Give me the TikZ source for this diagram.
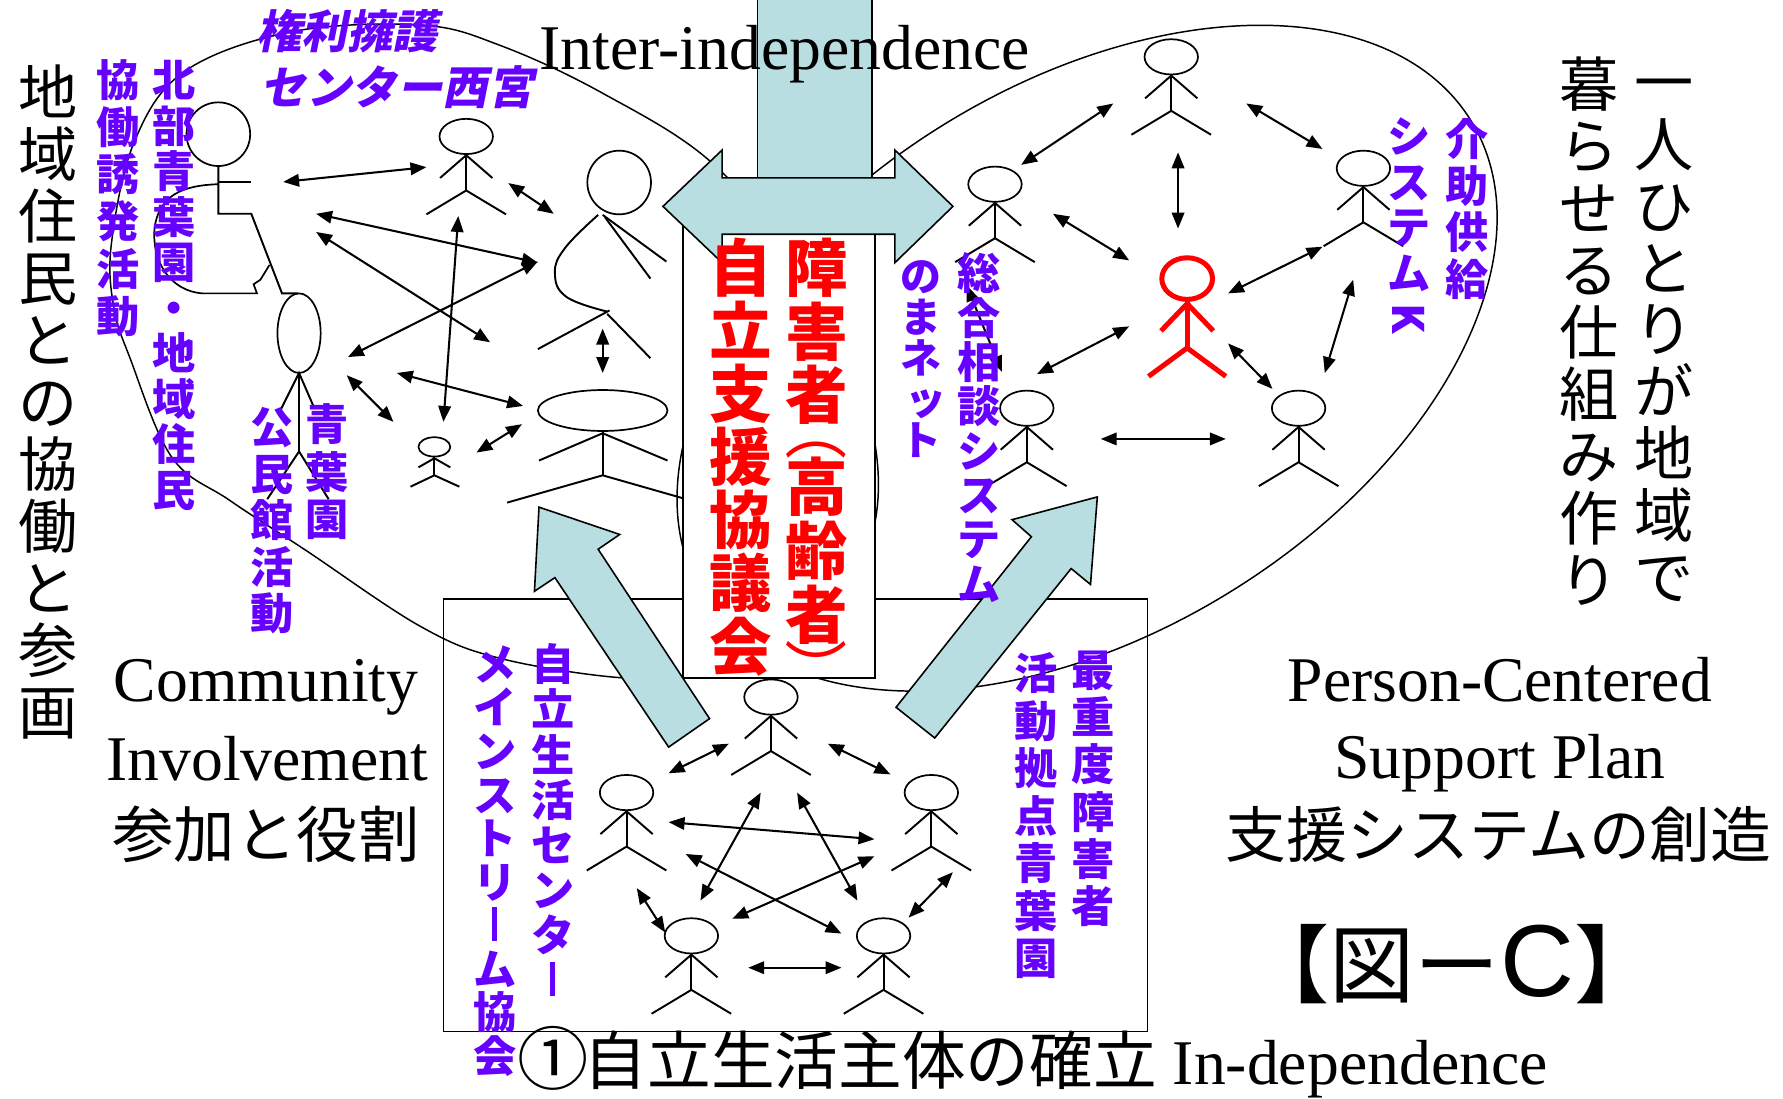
\documentclass[tikz,border=0pt]{standalone}
\usepackage{fontspec}
\usepackage{graphicx}
\usetikzlibrary{arrows.meta}
\setmainfont{Liberation Serif}
\newfontfamily\jp{Noto Sans CJK JP}
\newfontfamily\jpsl{Noto Sans CJK JP}[FakeSlant=0.2]
\newfontfamily\arialf{Liberation Sans}
\definecolor{paleblue}{RGB}{184,222,226}
\definecolor{vio}{RGB}{102,0,255}
\definecolor{rd}{RGB}{255,0,0}
% fixes the top of a vertical column at kanji height
\newcommand\vst{\vphantom{国}}
% long vowel mark, small tsu and brackets set for vertical columns
\newcommand\vbar{\rule[0.02em]{0.1em}{0.78em}}
\newcommand\vtsu{\hspace*{0.22em}ッ}
\newcommand\vopen{{\mdseries\rotatebox[origin=c]{-90}{（}}}
\newcommand\vclose{{\mdseries\rotatebox[origin=c]{-90}{）}}}

\tikzset{
  limb/.style={line width=1.7pt},
  rim/.style={line width=1.5pt},
  loop/.style={line width=1.3pt},
  frame/.style={line width=1.4pt},
  dbl/.style={line width=1.8pt,{Triangle[length=14pt,width=11pt]}-{Triangle[length=14pt,width=11pt]}},
  bluearrow/.style={fill=paleblue,draw=black,line width=1.4pt,line join=miter},
  vcol/.style={inner sep=0pt,align=center,anchor=north},
  purple col/.style={vcol,text=vio,font={\jp\bfseries\fontsize{38}{#1}\selectfont\lineskiplimit=-100pt}},
  small purple col/.style={vcol,text=vio,font={\jp\bfseries\fontsize{36}{#1}\selectfont\lineskiplimit=-100pt}},
  black col/.style={vcol,text=black,font={\jp\fontsize{52}{#1}\selectfont\lineskiplimit=-100pt}},
  red col/.style={vcol,text=rd,font={\jp\bfseries\fontsize{55}{#1}\selectfont\lineskiplimit=-100pt}},
  latin/.style={inner sep=0pt,anchor=base,font=\fontsize{56}{60}\selectfont},
  slanted/.style={inner sep=0pt,anchor=west,text=vio,font={\jpsl\bfseries\fontsize{40}{44}\selectfont}},
  person/.pic={
    \draw[rim] (0,0) ellipse [x radius=23.5,y radius=15.5];
    \draw[limb] (0,15.5) -- (0,47.5);
    \draw[limb] (-23,36.5) -- (0,16.5) -- (23,36.5);
    \draw[limb] (-35,68.5) -- (0,47.5) -- (35,68.5);
  },
}

\begin{document}
\begin{tikzpicture}[x=1pt,y=-1pt]
\useasboundingbox (0,0) rectangle (1568,966);
\fill[white] (0,0) rectangle (1568,966);

% community circle (left) and person-centred circle (right)
\draw[loop] plot[smooth cycle,tension=0.6] coordinates {
  (118,125) (162,63) (256,28) (370,22) (440,40) (530,82) (627,144)
  (705,240) (758,345) (772,440) (745,525) (690,572) (615,592) (546,596)
  (440,579) (370,551) (269,484) (202,440) (151,402) (114,314) (100,270) (98,214)};
\draw[loop,rotate around={31.8:(956,315)}] (956,315) ellipse [x radius=397,y radius=241];

% independent-living frame
\draw[frame] (390,527) rectangle (1009,907);

% ---- community group ----
\draw[rim] (192,118) circle [radius=28];
\draw[limb] (192,146) -- (192,188) -- (221,188) -- (248,258) -- (262,258);
\draw[limb] (192,160) -- (221,160);
\draw[rim] (192,162) .. controls (160,163) and (140,172) .. (136,200)
  .. controls (133,230) and (150,256) .. (178,258) -- (226,258)
  -- (223,250) -- (229,246) -- (237,233);

\draw[rim] (263,293) ellipse [x radius=19,y radius=35];
\draw[limb] (263,328) -- (263,397);
\draw[limb] (246,362) -- (263,328) -- (276,358);
\draw[limb] (235,439) -- (263,397) -- (289,439);

\pic at (410,120) {person};

\draw[rim] (544.5,160.5) circle [radius=28];
\draw[limb] plot[smooth,tension=0.7] coordinates {(526,189) (497,218) (488,240) (498,261) (534,274)};
\draw[limb] (530,189) -- (586,230);
\draw[limb] (532,191) -- (572,245);
\draw[limb] (473,307) -- (536,273);
\draw[limb] (534,276) -- (572,315);

\draw[rim] (530,361) ellipse [x radius=57,y radius=18];
\draw[limb] (530,379) -- (530,418);
\draw[limb] (474,405) -- (530,381) -- (587,405);
\draw[limb] (446,442) -- (530,418) -- (614,442);

\draw[rim] (382,393) ellipse [x radius=14,y radius=8.5];
\draw[limb] (382,401.5) -- (382,418);
\draw[limb] (368,411) -- (382,403) -- (396,411);
\draw[limb] (361,428) -- (382,418) -- (404,428);

% ---- person-centred group ----
\pic at (1030,50) {person};
\pic at (875,162) {person};
\pic at (903,359) {person};
\pic at (1142,359) {person};
\pic at (1199,148) {person};
\begin{scope}[rd,line width=4.4pt]
  \draw (1044,245) ellipse [x radius=22.3,y radius=18.3];
  \draw (1044,264) -- (1044,306);
  \draw (1021,291) -- (1044,267) -- (1067,291);
  \draw (1010,331) -- (1044,306) -- (1078,331);
\end{scope}

% ---- independent-living group ----
\pic at (678,613) {person};
\pic at (551,697) {person};
\pic at (819,697) {person};
\pic at (608,823) {person};
\pic at (777,823) {person};

% two-way links
\foreach \n/\ax/\ay/\bx/\by in {
  l1/249/160/375/147, l2/447/161/487/188, l3/278/188/473/231,
  l4/278/204/431/301, l5/306/314/473/230, l6/403/190/390/371,
  l7/305/330/346/371, l8/349/328/460/357, l9/419/398/459/373,
  l10/530/289/530/328,
  r1/979/91/898/145, r2/1096/91/1163/131, r3/1036/134/1036/201,
  r4/926/188/993/229, r5/1163/217/1080/258, r6/993/287/912/329,
  r7/1190/246/1165/328, r8/1080/302/1119/342, r9/968/386/1078/386,
  r10/850/251/881/327,
  b1/588/680/641/654, b2/728/654/783/681, b3/588/723/769/738,
  b4/669/697/616/792, b5/701/697/754/792, b6/603/751/740/821,
  b7/769/753/644/808, b8/560/781/585/820, b9/838/767/799/807,
  b10/658/851/740/851}{
  \coordinate (\n s) at (\ax,\ay);
  \coordinate (\n e) at (\bx,\by);
  \draw[dbl] (\n s) -- (\n e);
}

% council box, vertical bar and wide double arrow
\draw[frame,fill=white] (600.5,185) rectangle (769.5,596);
\draw[bluearrow] (666,-5) rectangle (767,156.4);
\draw[bluearrow] (583,181.5) -- (635,132) -- (635,156.4) -- (787,156.4) -- (787,132)
  -- (838,181.5) -- (787,231) -- (787,206) -- (635,206) -- (635,231) -- cycle;

% upward block arrows
\draw[bluearrow] (474,446) -- (545,470) -- (526,483) -- (624,632) -- (588,657)
  -- (488,508) -- (470,520) -- cycle;
\draw[bluearrow] (965,437) -- (959,514) -- (942,500) -- (822,649) -- (788,622)
  -- (907,472) -- (890,457) -- cycle;

% ---- texts ----
\node[black col=54.5] (colL) at (42,57) {\vst 地\\域\\住\\民\\と\\の\\協\\働\\と\\参\\画};
\node[black col=54.5] (colR1) at (1463,50) {\vst 一\\人\\ひ\\と\\り\\が\\地\\域\\で};
\node[black col=54.5] (colR2) at (1397,50) {\vst 暮\\ら\\せ\\る\\仕\\組\\み\\作\\り};

\node[purple col=41.5] (p1) at (104,52) {\vst 協\\働\\誘\\発\\活\\動};
\node[purple col=40] (p2) at (153,53) {\vst 北\\部\\青\\葉\\園\\・\\地\\域\\住\\民};
\node[purple col=41.5] (p3) at (288,355) {\vst 青\\葉\\園};
\node[purple col=41] (p4) at (239,358) {\vst 公\\民\\館\\活\\動};
\node[small purple col=36] (p5) at (810,227) {\vst の\\ま\\ネ\\\vtsu\\ト};
\node[purple col=39] (p6) at (861,222) {\vst 総\\合\\相\\談\\シ\\ス\\テ\\ム};
\node[purple col=41] (p7) at (1290,104) {\vst 介\\助\\供\\給};
\node[purple col=40] (p8) at (1239,103) {\vst シ\\ス\\テ\\ム\\\rotatebox[origin=c]{-90}{K}};
\node[purple col=39.7] (p9) at (486,566) {\vst 自\\立\\生\\活\\セ\\ン\\タ\\\vbar};
\node[purple col=38.3] (p10) at (435,567) {\vst メ\\イ\\ン\\ス\\ト\\リ\\\vbar\\ム\\協\\会};
\node[purple col=41.6] (p11) at (961,572) {\vst 最\\重\\度\\障\\害\\者};
\node[purple col=41.7] (p12) at (911,574) {\vst 活\\動\\拠\\点\\青\\葉\\園};

\node[slanted] (s1) at (225,27) {権利擁護};
\node[slanted] (s2) at (229,77) {センター西宮};

\node[red col=55.5] (red1) at (651,209) {\vst 自\\立\\支\\援\\協\\議\\会};
\node[red col=56] (red2) at (718,209)
  {\vst 障\\害\\者\\[-25pt]\vopen\\[-6pt]高\\齢\\者\\[-7pt]\vclose};

\node[latin] (t1) at (690,61) {Inter-independence};
\node[latin] (t2) at (234,617) {Community};
\node[latin] (t3) at (235,686) {Involvement};
\node[latin] (t4) at (1319,617) {Person-Centered};
\node[latin] (t5) at (1319,685) {Support Plan};
\node[inner sep=0pt,font=\jp\fontsize{54}{58}\selectfont] (t6) at (234,734) {参加と役割};
\node[inner sep=0pt,font=\jp\fontsize{53.5}{58}\selectfont] (t7) at (1318,734) {支援システムの創造};
\node[inner sep=0pt,anchor=base west,font=\fontsize{56}{60}\selectfont] (t8) at (455,954)
  {{\jp\scalebox{1.12}[1.08]{①}\hspace{-0.08em}自立生活主体の確立} In-dependence};
\node[inner sep=0pt,anchor=base west] (t9) at (1094,876)
  {{\jp\fontsize{75}{80}\selectfont 【図ー}{\arialf\fontsize{90}{90}\selectfont C}{\jp\fontsize{75}{80}\selectfont 】}};
\end{tikzpicture}
\end{document}
